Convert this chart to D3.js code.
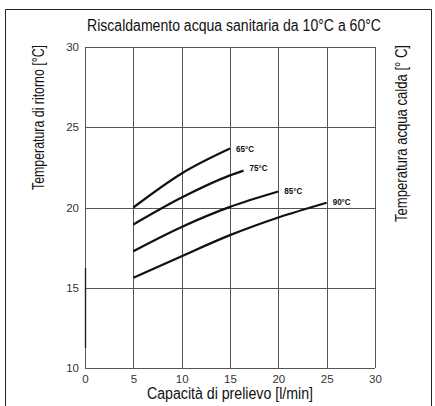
<!DOCTYPE html>
<html>
<head>
<meta charset="utf-8">
<script src="https://cdn.jsdelivr.net/npm/d3@7"></script>
<style>
  html, body { margin: 0; padding: 0; background: #fff; }
  svg { display: block; }
  .narrow { font-family: "Liberation Sans", Arial, sans-serif; }
</style>
</head>
<body>
<svg id="chart" width="435" height="406"></svg>
<script>
// Flow rate ticks [l/min] and return temperature ticks [°C]
const xTicks = [0, 5, 10, 15, 20, 25, 30];
const yTicks = [10, 15, 20, 25, 30];

// Hot water supply temperatures (curve labels)
const seriesNames = ["65°C", "75°C", "85°C", "90°C"];

// Flow rate points per curve
const flow65 = [5, 10, 15];
const flow75 = [5, 10, 15, 16.4];
const flow85 = [5, 10, 15, 20];
const flow90 = [5, 10, 15, 20, 25];

// Return temperature per curve
const ret65 = [20.0, 22.12, 23.67];
const ret75 = [18.94, 20.62, 22.0, 22.3];
const ret85 = [17.28, 18.79, 20.04, 21.0];
const ret90 = [15.62, 16.97, 18.28, 19.38, 20.3];

const series = [
  { name: seriesNames[0], xs: flow65, ys: ret65, dy: 0 },
  { name: seriesNames[1], xs: flow75, ys: ret75, dy: -3 },
  { name: seriesNames[2], xs: flow85, ys: ret85, dy: 0 },
  { name: seriesNames[3], xs: flow90, ys: ret90, dy: -1 }
];

const svg = d3.select("#chart");
const plot = { left: 85, right: 375, top: 47, bottom: 368 };

const x = d3.scaleLinear().domain([0, 30]).range([plot.left, plot.right]);
const y = d3.scaleLinear().domain([10, 30]).range([plot.bottom, plot.top]);

// Outer frame
svg.append("path")
  .attr("d", `M5.5,420 V9.5 H431.5 V420`)
  .attr("fill", "none")
  .attr("stroke", "#222")
  .attr("stroke-width", 1);

// Condensed text helper: squeezes a label into a fixed length
function condensed(sel, len) {
  return sel.attr("textLength", len).attr("lengthAdjust", "spacingAndGlyphs");
}

// Title
svg.append("text")
  .attr("class", "narrow")
  .attr("x", 234).attr("y", 30.5)
  .attr("text-anchor", "middle")
  .attr("font-size", 16)
  .attr("fill", "#111")
  .text("Riscaldamento acqua sanitaria da 10°C a 60°C")
  .call(condensed, 294);

// Grid lines
const grid = svg.append("g");
grid.selectAll("line.v").data(xTicks).join("line")
  .attr("class", "v")
  .attr("x1", d => Math.round(x(d)) + 0.5).attr("x2", d => Math.round(x(d)) + 0.5)
  .attr("y1", plot.top).attr("y2", plot.bottom)
  .attr("stroke", "#555").attr("stroke-width", 1);
grid.selectAll("line.h").data(yTicks).join("line")
  .attr("class", "h")
  .attr("y1", d => Math.round(y(d)) + 0.5).attr("y2", d => Math.round(y(d)) + 0.5)
  .attr("x1", plot.left).attr("x2", plot.right)
  .attr("stroke", "#555").attr("stroke-width", 1);

// Darker stretch of the left axis
svg.append("line")
  .attr("x1", Math.round(x(0)) + 0.5).attr("x2", Math.round(x(0)) + 0.5)
  .attr("y1", 268).attr("y2", 348)
  .attr("stroke", "#222").attr("stroke-width", 1.4);

// Axes (labels only; lines come from the grid)
const xAxis = d3.axisBottom(x).tickValues(xTicks).tickSize(0).tickPadding(7);
svg.append("g")
  .attr("transform", `translate(0,${plot.bottom})`)
  .call(xAxis)
  .call(g => g.select(".domain").remove())
  .call(g => g.selectAll("text")
    .attr("class", "narrow")
    .attr("font-size", 11.5)
    .attr("fill", "#333"));

const yAxis = d3.axisLeft(y).tickValues(yTicks).tickSize(0).tickPadding(6);
svg.append("g")
  .attr("transform", `translate(${plot.left},0)`)
  .call(yAxis)
  .call(g => g.select(".domain").remove())
  .call(g => g.selectAll("text")
    .attr("class", "narrow")
    .attr("font-size", 11.5)
    .attr("fill", "#333"));

// Axis titles
svg.append("text")
  .attr("class", "narrow")
  .attr("transform", "translate(44,117.5) rotate(-90)")
  .attr("text-anchor", "middle")
  .attr("font-size", 16)
  .attr("fill", "#111")
  .text("Temperatura di ritorno [°C]")
  .call(condensed, 145);

svg.append("text")
  .attr("class", "narrow")
  .attr("transform", "translate(407,133.5) rotate(-90)")
  .attr("text-anchor", "middle")
  .attr("font-size", 16)
  .attr("fill", "#111")
  .text("Temperatura acqua calda [° C]")
  .call(condensed, 177);

svg.append("text")
  .attr("class", "narrow")
  .attr("x", 230).attr("y", 399)
  .attr("text-anchor", "middle")
  .attr("font-size", 16)
  .attr("fill", "#111")
  .text("Capacità di prelievo [l/min]")
  .call(condensed, 166);

// Curves
const line = d3.line()
  .x(d => x(d[0]))
  .y(d => y(d[1]))
  .curve(d3.curveMonotoneX);

const curves = svg.append("g");
series.forEach(s => {
  const pts = s.xs.map((v, i) => [v, s.ys[i]]);
  curves.append("path")
    .datum(pts)
    .attr("d", line)
    .attr("fill", "none")
    .attr("stroke", "#111")
    .attr("stroke-width", 2.2)
    .attr("stroke-linecap", "butt");
  const last = pts[pts.length - 1];
  curves.append("text")
    .attr("class", "narrow")
    .attr("x", x(last[0]) + 6)
    .attr("y", y(last[1]) + s.dy)
    .attr("dy", "0.35em")
    .attr("font-size", 8.5)
    .attr("font-weight", "bold")
    .attr("fill", "#111")
    .text(s.name)
    .call(condensed, 18);
});
</script>
</body>
</html>
